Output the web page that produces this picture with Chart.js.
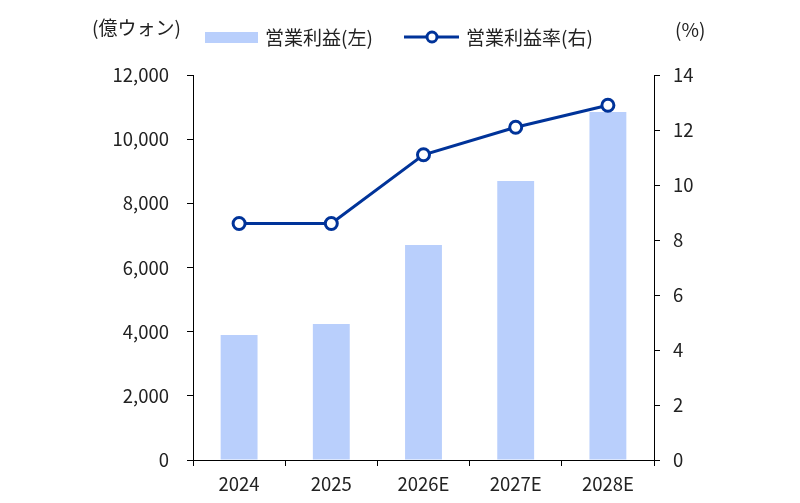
<!DOCTYPE html>
<html><head><meta charset="utf-8">
<script src="https://cdn.jsdelivr.net/npm/chart.js@4/dist/chart.umd.min.js"></script>
<style>
html,body{margin:0;padding:0;background:#fff;}
#wrap{position:relative;width:800px;height:503px;font-family:"Noto Sans CJK JP","Noto Sans",sans-serif;color:#222;}
canvas{position:absolute;left:0;top:0;}
.t{position:absolute;font-size:19px;line-height:20px;white-space:nowrap;}
.sw{position:absolute;background:#B9CFFC;}
</style></head><body>
<div id="wrap">
<canvas id="c" width="800" height="503"></canvas>
<div class="t" style="left:92px;top:17px;">(億ウォン)</div>
<div class="t" style="left:675px;top:19px;">(%)</div>
<div class="sw" style="left:205px;top:32px;width:53px;height:11px;"></div>
<div class="t" style="left:265px;top:27px;">営業利益(左)</div>
<svg style="position:absolute;left:400px;top:26px;" width="64" height="22">
<line x1="4" y1="11" x2="59" y2="11" stroke="#003399" stroke-width="3"/>
<circle cx="32" cy="11" r="5" fill="#fff" stroke="#003399" stroke-width="3"/>
</svg>
<div class="t" style="left:466px;top:27px;">営業利益率(右)</div>
</div>
<script>
const categories = ["2024","2025","2026E","2027E","2028E"];
const operatingProfit = [3900, 4240, 6700, 8700, 10850];
const operatingMargin = [8.6, 8.6, 11.1, 12.1, 12.9];

const FONT = {family:'"Noto Sans CJK JP","Noto Sans",sans-serif', size:18.5};
new Chart(document.getElementById('c'), {
  data: {
    labels: categories,
    datasets: [
      {type:'line', label:'営業利益率(右)', data: operatingMargin, yAxisID:'y2', order:0,
       borderColor:'#003399', borderWidth:3, pointRadius:6, pointBorderWidth:3,
       pointBackgroundColor:'#fff', pointBorderColor:'#003399', tension:0},
      {type:'bar', label:'営業利益(左)', data: operatingProfit, yAxisID:'y', order:1,
       backgroundColor:'#B9CFFC', barPercentage:0.4, categoryPercentage:1.0}
    ]
  },
  options: {
    responsive:false, animation:false,
    layout:{padding:{left:0,right:0,top:75,bottom:0}},
    plugins:{legend:{display:false}, tooltip:{enabled:false}},
    scales:{
      x:{
        grid:{display:true, drawOnChartArea:false, drawTicks:true, tickLength:6, color:'#000', offset:true},
        border:{display:true, color:'#000', width:1},
        ticks:{color:'#222', font:FONT, padding:7, maxRotation:0},
        afterFit:(s)=>{s.height=43;}
      },
      y:{
        position:'left', min:0, max:12000,
        grid:{display:true, drawOnChartArea:false, drawTicks:true, tickLength:6, color:'#000'},
        border:{display:true, color:'#000', width:1},
        ticks:{stepSize:2000, color:'#222', font:FONT, padding:18,
          callback:(v)=>v.toLocaleString('en-US')},
        afterFit:(s)=>{s.width=193;}
      },
      y2:{
        position:'right', min:0, max:14,
        grid:{display:true, drawOnChartArea:false, drawTicks:true, tickLength:6, color:'#000'},
        border:{display:true, color:'#000', width:1},
        ticks:{stepSize:2, color:'#222', font:FONT, padding:13},
        afterFit:(s)=>{s.width=146;}
      }
    }
  }
});
</script>
</body></html>
